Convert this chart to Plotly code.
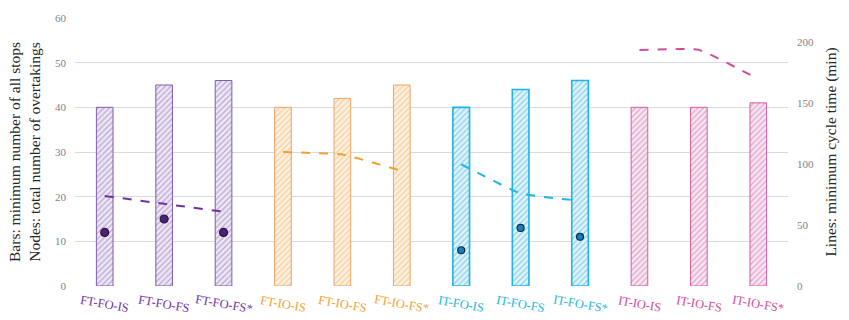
import plotly.graph_objects as go

# Configuration groups and their categories
groups = ["FT-FO", "FT-IO", "IT-FO", "IT-IO"]
variants = ["IS", "FS", "FS*"]
categories = [f"{g}-{v}" for g in groups for v in variants]

# Bars: minimum number of all stops
stops = {
    "FT-FO": [40, 45, 46],
    "FT-IO": [40, 42, 45],
    "IT-FO": [40, 44, 46],
    "IT-IO": [40, 40, 41],
}
# Nodes: total number of overtakings (only FO configurations)
overtakings = {
    "FT-FO": [12, 15, 12],
    "IT-FO": [8, 13, 11],
}
# Lines: minimum cycle time (min)
cycle_time = {
    "FT-FO": [74, 67.5, 61],
    "FT-IO": [110, 108, 94.5],
    "IT-FO": [100, 76, 70],
    "IT-IO": [194, 194, 170],
}

line_color = {"FT-FO": "#7030A0", "FT-IO": "#F4A030", "IT-FO": "#22B4E2", "IT-IO": "#D24A9A"}
hatch_color = {"FT-FO": "#8A6BB5", "FT-IO": "#F2B060", "IT-FO": "#2FB2E0", "IT-IO": "#D45FA8"}
bar_bg = {"FT-FO": "#EEE8F6", "FT-IO": "#FDF1E2", "IT-FO": "#E4F4FB", "IT-IO": "#F9E8F2"}
edge_color = {"FT-FO": "#7E5DAE", "FT-IO": "#E8A565", "IT-FO": "#1FB3E6", "IT-IO": "#CF5DA6"}
edge_width = {"FT-FO": 1, "FT-IO": 1, "IT-FO": 1.6, "IT-IO": 1}
node_fill = {"FT-FO": "#4A2372", "IT-FO": "#1A7FB8"}
node_edge = {"FT-FO": "#2E1448", "IT-FO": "#0E2F48"}
node_size = {"FT-FO": 8, "IT-FO": 7}

serif = "Liberation Serif"

fig = go.Figure()

for g in groups:
    xs = [f"{g}-{v}" for v in variants]
    fig.add_trace(go.Bar(
        x=xs, y=stops[g], width=0.28,
        marker=dict(
            color=bar_bg[g],
            line=dict(color=edge_color[g], width=edge_width[g]),
            pattern=dict(shape="/", fgcolor=hatch_color[g], bgcolor=bar_bg[g],
                         size=4, solidity=0.35, fillmode="overlay"),
        ),
        showlegend=False, yaxis="y",
    ))

for g in groups:
    xs = [f"{g}-{v}" for v in variants]
    fig.add_trace(go.Scatter(
        x=xs, y=cycle_time[g], mode="lines", yaxis="y2",
        line=dict(color=line_color[g], width=2, dash="dash", shape="spline", smoothing=0.35),
        showlegend=False,
    ))

for g, vals in overtakings.items():
    xs = [f"{g}-{v}" for v in variants]
    fig.add_trace(go.Scatter(
        x=xs, y=vals, mode="markers", yaxis="y",
        marker=dict(color=node_fill[g], size=node_size[g],
                    line=dict(color=node_edge[g], width=1.2)),
        showlegend=False,
    ))

# Coloured, slanted category labels
annotations = []
for g in groups:
    for v in variants:
        annotations.append(dict(
            x=f"{g}-{v}", y=-0.068, xref="x", yref="paper",
            text=f"{g}-{v}", showarrow=False, textangle=10,
            yanchor="middle", xanchor="center",
            font=dict(family=serif, size=12.5, color=line_color[g]),
        ))

fig.update_layout(
    width=849, height=320,
    margin=dict(l=75, r=57, t=14, b=34),
    paper_bgcolor="white", plot_bgcolor="white",
    barmode="overlay",
    xaxis=dict(type="category", categoryorder="array", categoryarray=categories,
               showticklabels=False, showgrid=False, zeroline=False,
               showline=False, range=[-0.5, 11.5]),
    yaxis=dict(range=[0, 60], dtick=10, showgrid=True, gridcolor="#D9D9D9",
               gridwidth=1, zeroline=False, showline=False,
               tickfont=dict(family=serif, size=11, color="#7F7F7F"),
               ticks="", ticklabelstandoff=8,
               title=dict(text="Bars: minimum number of all stops<br>Nodes: total number of overtakings",
                          font=dict(family=serif, size=15.5, color="#262626"), standoff=10)),
    yaxis2=dict(overlaying="y", side="right", range=[0, 220.2],
                tickvals=[0, 50, 100, 150, 200], showgrid=False, zeroline=False,
                showline=False, ticks="", ticklabelstandoff=8,
                tickfont=dict(family=serif, size=11, color="#7F7F7F"),
                title=dict(text="Lines: minimum cycle time (min)",
                           font=dict(family=serif, size=15.5, color="#262626"), standoff=12)),
    annotations=annotations,
)

fig.write_html("out.html")
